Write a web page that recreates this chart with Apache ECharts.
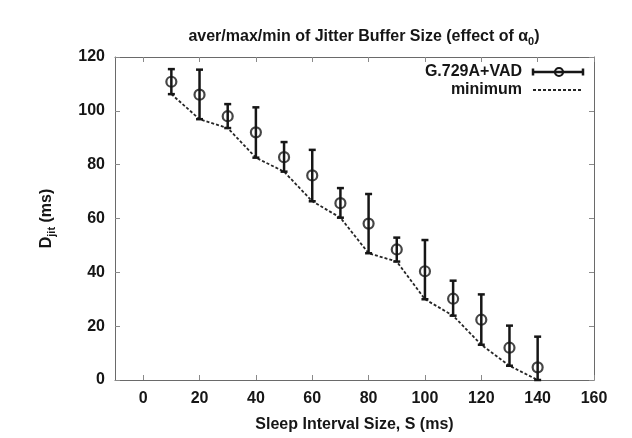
<!DOCTYPE html>
<html>
<head>
<meta charset="utf-8">
<script src="https://cdn.jsdelivr.net/npm/echarts@6/dist/echarts.min.js"></script>
<style>
html,body{margin:0;padding:0;background:#fff;}
#c{width:632px;height:438px;}
</style>
</head>
<body>
<div id="c"></div>
<script>
// Data
const sleepInterval = [10, 20, 30, 40, 50, 60, 70, 80, 90, 100, 110, 120, 130, 140];
const averJitter   = [110.8, 106.0, 98.0, 92.0, 82.8, 76.0, 65.7, 58.1, 48.5, 40.4, 30.2, 22.4, 12.0, 4.7];
const maxJitter    = [115.5, 115.3, 102.5, 101.3, 88.4, 85.5, 71.3, 69.1, 52.9, 52.0, 36.9, 31.8, 20.2, 16.1];
const minJitter    = [106.2, 96.9, 93.6, 82.6, 77.4, 66.4, 60.3, 47.1, 44.0, 30.0, 23.9, 13.1, 5.3, 0.0];
const xTicks = [0, 20, 40, 60, 80, 100, 120, 140, 160];
const yTicks = [0, 20, 40, 60, 80, 100, 120];

const FONT = "'Liberation Sans', Arial, Helvetica, sans-serif";
const INK = '#161616';
const FRAME = '#6a6a6a';

const errData = sleepInterval.map((x, i) => [x, minJitter[i], maxJitter[i]]);
const meanData = sleepInterval.map((x, i) => [x, averJitter[i]]);
const minData = sleepInterval.map((x, i) => [x, minJitter[i]]);

const chart = echarts.init(document.getElementById('c'), null, {renderer: 'canvas'});

const axisCommon = {
  axisLine: {show: true, onZero: false, lineStyle: {color: FRAME, width: 1}},
  axisTick: {show: true, inside: true, length: 5, lineStyle: {color: '#8a8a8a', width: 1}},
  splitLine: {show: false}
};

const option = {
  backgroundColor: '#fff',
  animation: false,
  textStyle: {fontFamily: FONT},
  title: {
    text: '{t|aver/max/min of Jitter Buffer Size (effect of α}{s|0}{t|)}',
    left: 359, top: 21, textAlign: 'center',
    textStyle: {
      rich: {
        t: {fontFamily: FONT, fontSize: 16, fontWeight: 'bold', color: INK},
        s: {fontFamily: FONT, fontSize: 11, fontWeight: 'bold', color: INK, padding: [10, 0, 0, 0]}
      }
    }
  },
  grid: {left: 115, right: 38, top: 57, bottom: 53, containLabel: false},
  xAxis: [
    Object.assign({}, axisCommon, {
      type: 'value', min: -10, max: 160, position: 'bottom',
      axisTick: Object.assign({}, axisCommon.axisTick, {customValues: xTicks}),
      axisLabel: {customValues: xTicks, fontFamily: FONT, fontSize: 16, fontWeight: 'bold', color: INK, margin: 11},
      name: 'Sleep Interval Size, S (ms)', nameLocation: 'middle', nameGap: 37,
      nameTextStyle: {fontFamily: FONT, fontSize: 16, fontWeight: 'bold', color: INK}
    }),
    Object.assign({}, axisCommon, {
      type: 'value', min: -10, max: 160, position: 'top',
      axisTick: Object.assign({}, axisCommon.axisTick, {customValues: xTicks}),
      axisLabel: {show: false, customValues: xTicks}
    })
  ],
  yAxis: [
    Object.assign({}, axisCommon, {
      type: 'value', min: 0, max: 120, interval: 20, position: 'left',
      axisLabel: {fontFamily: FONT, fontSize: 16, fontWeight: 'bold', color: INK, margin: 10},
      name: '{d|D}{s|jit}{d| (ms)}', nameLocation: 'middle', nameGap: 58,
      nameTextStyle: {
        rich: {
          d: {fontFamily: FONT, fontSize: 16, fontWeight: 'bold', color: INK},
          s: {fontFamily: FONT, fontSize: 11, fontWeight: 'bold', color: INK, padding: [10, 0, 0, 0]}
        }
      }
    }),
    Object.assign({}, axisCommon, {
      type: 'value', min: 0, max: 120, interval: 20, position: 'right',
      axisLabel: {show: false}
    })
  ],
  series: [
    {
      type: 'custom', name: 'errorbars',
      xAxisIndex: 0, yAxisIndex: 0,
      data: errData,
      encode: {x: 0, y: [1, 2]},
      renderItem: function (params, api) {
        const x = api.value(0), lo = api.value(1), hi = api.value(2);
        const pLo = api.coord([x, lo]), pHi = api.coord([x, hi]);
        const hw = 3.5;
        const st = {stroke: INK, lineWidth: 2.5};
        return {type: 'group', children: [
          {type: 'line', shape: {x1: pLo[0], y1: pLo[1], x2: pHi[0], y2: pHi[1]}, style: st},
          {type: 'line', shape: {x1: pHi[0] - hw, y1: pHi[1], x2: pHi[0] + hw, y2: pHi[1]}, style: st},
          {type: 'line', shape: {x1: pLo[0] - hw, y1: pLo[1], x2: pLo[0] + hw, y2: pLo[1]}, style: st}
        ]};
      },
      z: 3
    },
    {
      type: 'line', name: 'minimum',
      data: minData, symbol: 'none',
      lineStyle: {color: '#262626', width: 1.8, type: [3, 2]},
      z: 2
    },
    {
      type: 'scatter', name: 'G.729A+VAD',
      data: meanData, symbol: 'circle', symbolSize: 10,
      itemStyle: {color: 'rgba(255,255,255,0)', borderColor: INK, borderWidth: 2.2},
      z: 4
    }
  ],
  graphic: [
    {type: 'text', x: 522, y: 72,
      style: {text: 'G.729A+VAD', font: "bold 16px " + FONT, fill: INK, align: 'right', verticalAlign: 'middle'}},
    {type: 'text', x: 522, y: 90,
      style: {text: 'minimum', font: "bold 16px " + FONT, fill: INK, align: 'right', verticalAlign: 'middle'}},
    {type: 'line', shape: {x1: 533, y1: 72, x2: 583, y2: 72}, style: {stroke: INK, lineWidth: 2.5}},
    {type: 'line', shape: {x1: 533, y1: 68.5, x2: 533, y2: 75.5}, style: {stroke: INK, lineWidth: 2.5}},
    {type: 'line', shape: {x1: 583, y1: 68.5, x2: 583, y2: 75.5}, style: {stroke: INK, lineWidth: 2.5}},
    {type: 'circle', shape: {cx: 559, cy: 72, r: 4}, style: {fill: 'rgba(255,255,255,0)', stroke: INK, lineWidth: 2.2}},
    {type: 'line', shape: {x1: 533, y1: 90, x2: 583, y2: 90}, style: {stroke: '#262626', lineWidth: 1.8, lineDash: [3, 2]}}
  ]
};
chart.setOption(option);
</script>
</body>
</html>
